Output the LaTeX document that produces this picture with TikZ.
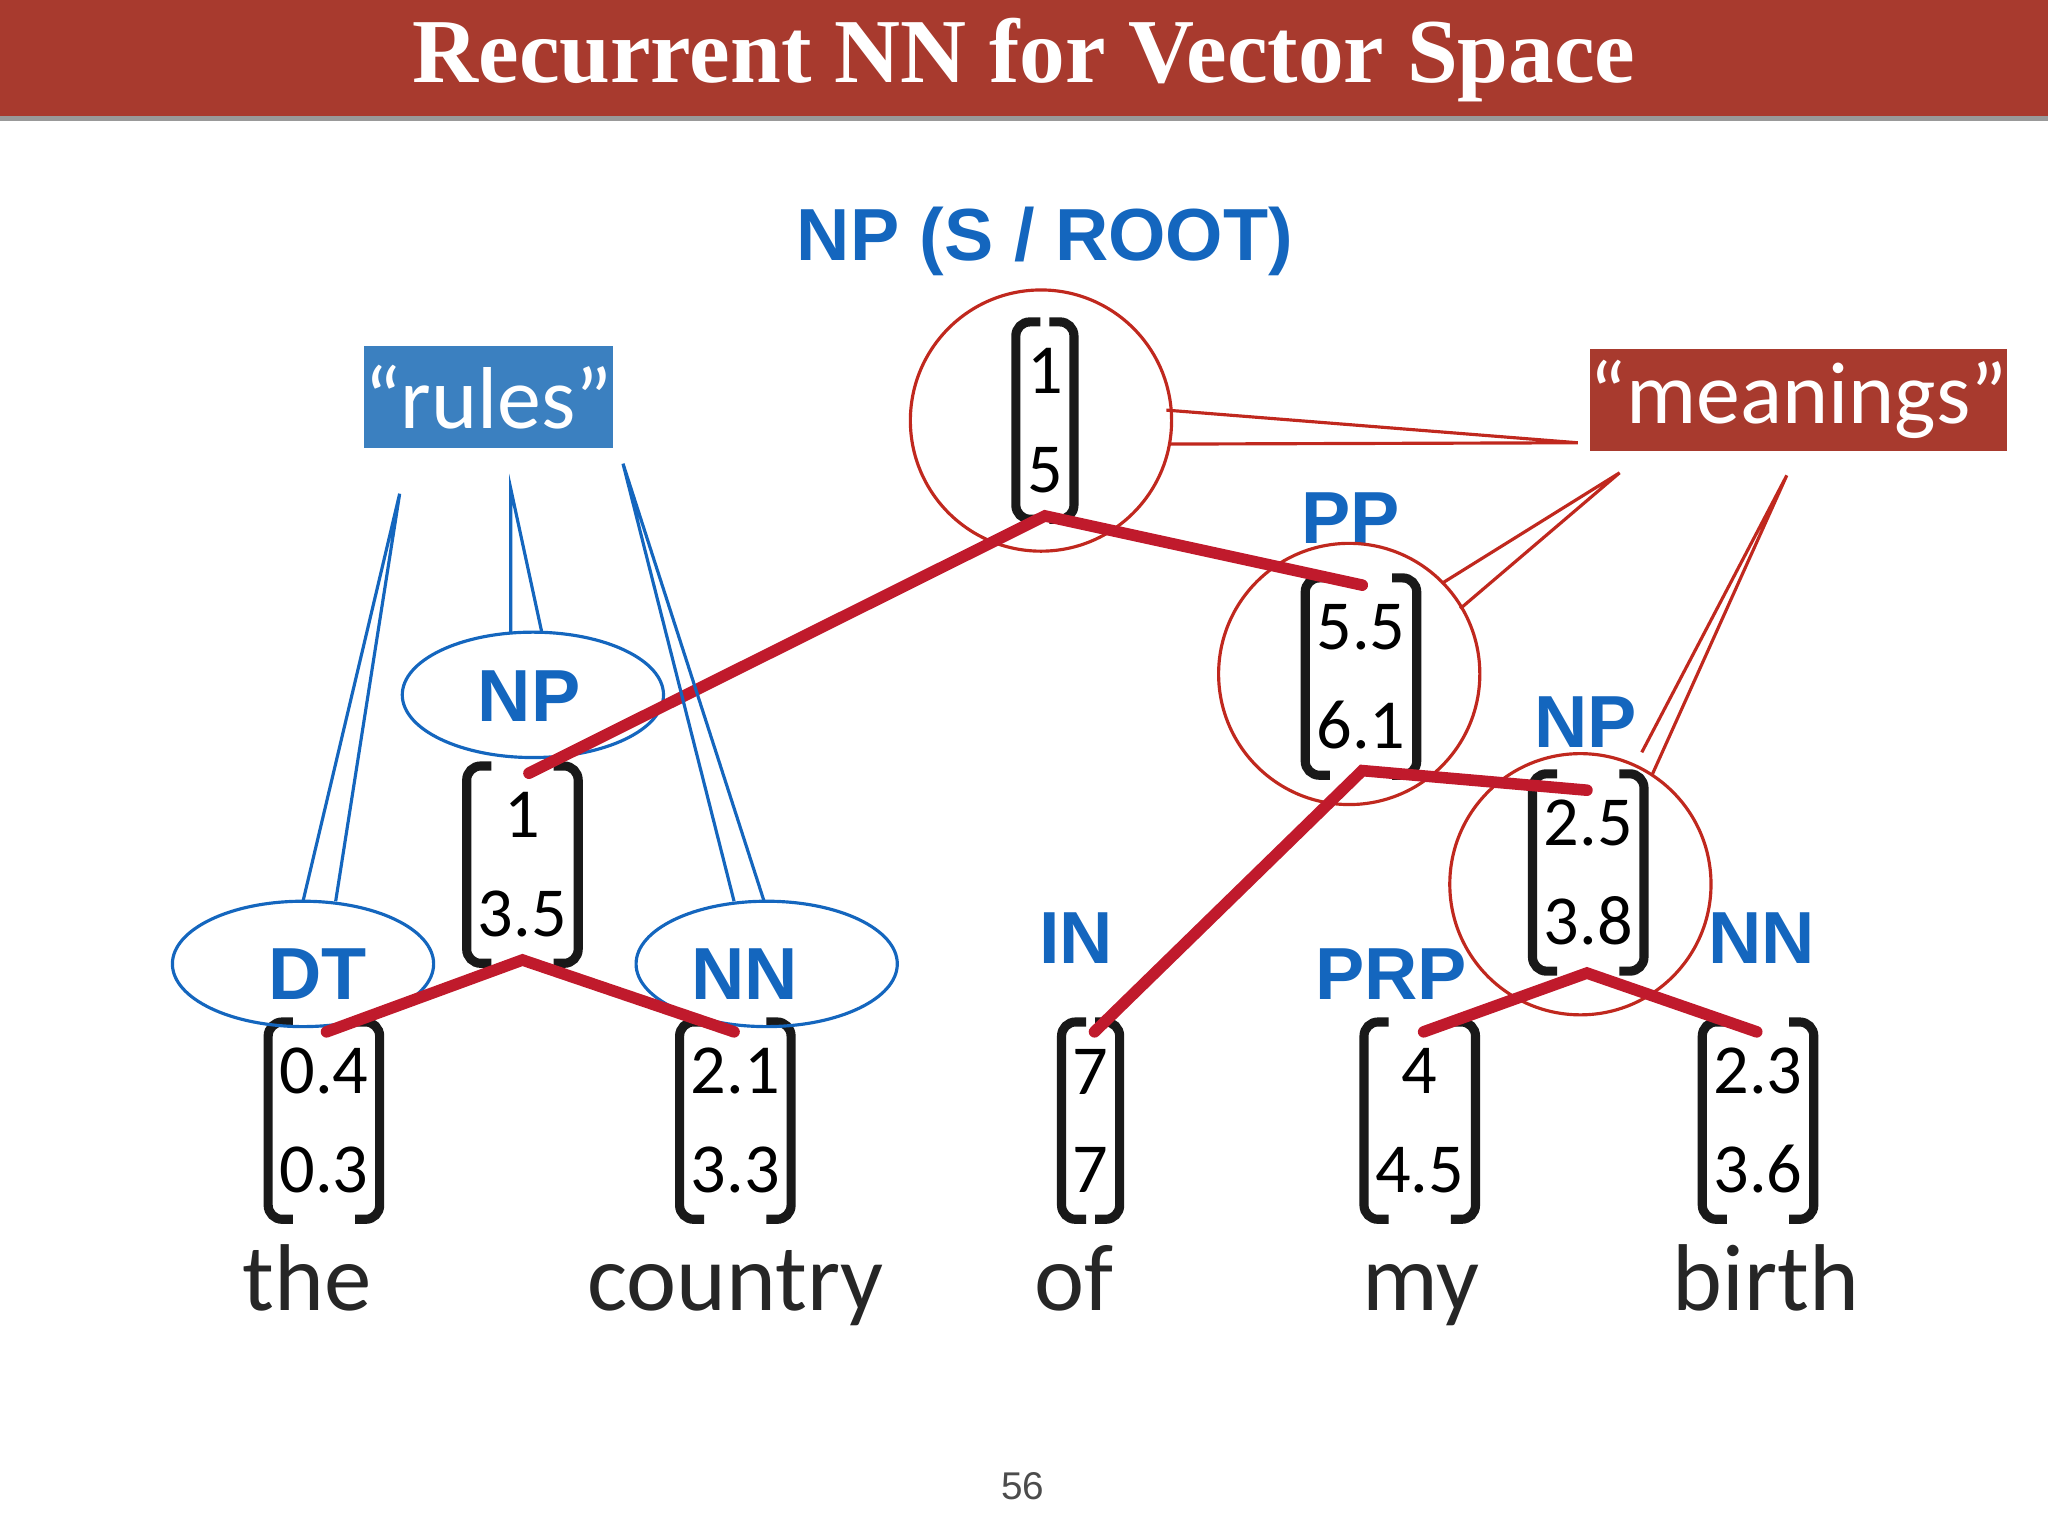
\documentclass[tikz,border=0pt]{standalone}
\usepackage{fontspec}
\usetikzlibrary{shapes.geometric}
\setmainfont{Carlito}
\newfontfamily\lab{Liberation Sans}
\newfontfamily\ttl{Liberation Serif}
\definecolor{tred}{HTML}{A83A2E}
\definecolor{lblue}{HTML}{1466BE}
\definecolor{bbox}{HTML}{3B80C0}
\definecolor{tree}{HTML}{C01A2C}
\definecolor{cred}{HTML}{C0281E}
\begin{document}
\begin{tikzpicture}[x=0.013061cm,y=-0.013061cm,
  lab/.style={font=\lab\bfseries\fontsize{21}{24}\selectfont,text=lblue},
  vec/.style={font=\fontsize{20}{22}\selectfont,inner xsep=3pt,inner ysep=0pt,minimum height=150*0.013061cm,align=center},
  brk/.style={draw=black!90,line width=2.6pt,rounded corners=4pt},
  word/.style={font=\fontsize{27}{30}\selectfont,text=black!85,anchor=base},
  br/.style={draw=tree,line width=3.3pt,line cap=round},
  circ/.style={draw=cred,line width=0.9pt,circle,minimum size=200*0.013061cm,inner sep=0pt},
  ell/.style={draw=lblue,line width=0.9pt,ellipse,minimum width=200*0.013061cm,minimum height=96*0.013061cm,inner sep=0pt},
  bl/.style={draw=lblue,line width=0.9pt},
  rl/.style={draw=cred,line width=0.9pt}]
\useasboundingbox (0,0) rectangle (1568,1176);
\fill[black!40] (0,88) rectangle (1568,93);
\fill[tred] (0,0) rectangle (1568,89);
\node[text=white,font=\ttl\bfseries\fontsize{26}{30}\selectfont] (title) at (784,46) {Recurrent NN for Vector Space};
\newcommand{\vv}[4]{\node[vec] (#1) at (#2) {#3\\[6pt]#4};
  \draw[brk] ([xshift=7pt]#1.north west) -- (#1.north west) -- (#1.south west) -- ([xshift=7pt]#1.south west);
  \draw[brk] ([xshift=-7pt]#1.north east) -- (#1.north east) -- (#1.south east) -- ([xshift=-7pt]#1.south east);}
% vectors
\vv{vroot}{800,322}{1}{5}
\vv{vpp}{1042,518}{5.5}{6.1}
\vv{vnpr}{1216,668}{2.5}{3.8}
\vv{vnpl}{400,662}{1}{3.5}
\vv{v1}{248,858}{0.4}{0.3}
\vv{v2}{563,858}{2.1}{3.3}
\vv{v3}{835,858}{7}{7}
\vv{v4}{1087,858}{4}{4.5}
\vv{v5}{1346,858}{2.3}{3.6}
% words
\node[word] (w1) at (235,1003) {the};
\node[word] (w2) at (563,1003) {country};
\node[word] (w3) at (822,1003) {of};
\node[word] (w4) at (1088,1003) {my};
\node[word] (w5) at (1352,1003) {birth};
% labels
\node[lab] (lroot) at (800,185) {NP (S / ROOT)};
\node[lab] (lpp) at (1034,397) {PP};
\node[lab] (lnpr) at (1214,553) {NP};
\node[lab] (lnpl) at (405,533) {NP};
\node[lab] (ldt) at (243,746) {DT};
\node[lab] (lnn) at (570,746) {NN};
\node[lab] (lin) at (824,718) {IN};
\node[lab] (lprp) at (1065,746) {PRP};
\node[lab] (lnn2) at (1349,718) {NN};
% ellipses and circles
\node[ell] (e1) at (408,532) {};
\node[ell] (e2) at (232,738) {};
\node[ell] (e3) at (587,738) {};
\node[circ] (c1) at (797,322) {};
\node[circ] (c2) at (1033,516) {};
\node[circ] (c3) at (1210,677) {};
% tree
\coordinate (t0) at (800,395); \coordinate (t0a) at (405,592); \coordinate (t0b) at (1043,448);
\coordinate (t1) at (1043,590); \coordinate (t1a) at (838,790); \coordinate (t1b) at (1215,605);
\coordinate (t2) at (1215,745); \coordinate (t2a) at (1090,790); \coordinate (t2b) at (1345,790);
\coordinate (t3) at (400,735); \coordinate (t3a) at (250,790); \coordinate (t3b) at (562,790);
\draw[br] (t0a) -- (t0) -- (t0b);
\draw[br] (t1a) -- (t1) -- (t1b);
\draw[br] (t2a) -- (t2) -- (t2b);
\draw[br] (t3a) -- (t3) -- (t3b);
% boxes
\node[fill=bbox,text=white,font=\fontsize{25}{30}\selectfont,minimum width=188*0.013061cm,minimum height=78*0.013061cm,inner sep=0pt] (rules) at (374,304) {“rules”};
\node[fill=tred,text=white,font=\fontsize{25}{30}\selectfont,minimum width=317*0.013061cm,minimum height=78*0.013061cm,inner sep=0pt] (mean) at (1377,306) {“meanings”};
% callouts
\coordinate (r1) at (306,378); \coordinate (r1a) at (232,690); \coordinate (r1b) at (257,690);
\coordinate (r2) at (391,374); \coordinate (r2a) at (391,485); \coordinate (r2b) at (415,485);
\coordinate (r3) at (477,355); \coordinate (r3a) at (562,690); \coordinate (r3b) at (585,690);
\draw[bl] (r1a) -- (r1) -- (r1b);
\draw[bl] (r2a) -- (r2) -- (r2b);
\draw[bl] (r3a) -- (r3) -- (r3b);
\coordinate (m1) at (1208,339); \coordinate (m1a) at (893,314); \coordinate (m1b) at (895,340);
\coordinate (m2) at (1240,362); \coordinate (m2a) at (1105,446); \coordinate (m2b) at (1118,466);
\coordinate (m3) at (1368,364); \coordinate (m3a) at (1257,576); \coordinate (m3b) at (1265,593);
\draw[rl] (m1a) -- (m1) -- (m1b);
\draw[rl] (m2a) -- (m2) -- (m2b);
\draw[rl] (m3a) -- (m3) -- (m3b);
\node[font=\lab\fontsize{11}{13}\selectfont,text=black!70] (pg) at (783,1138) {56};
\end{tikzpicture}
\end{document}
